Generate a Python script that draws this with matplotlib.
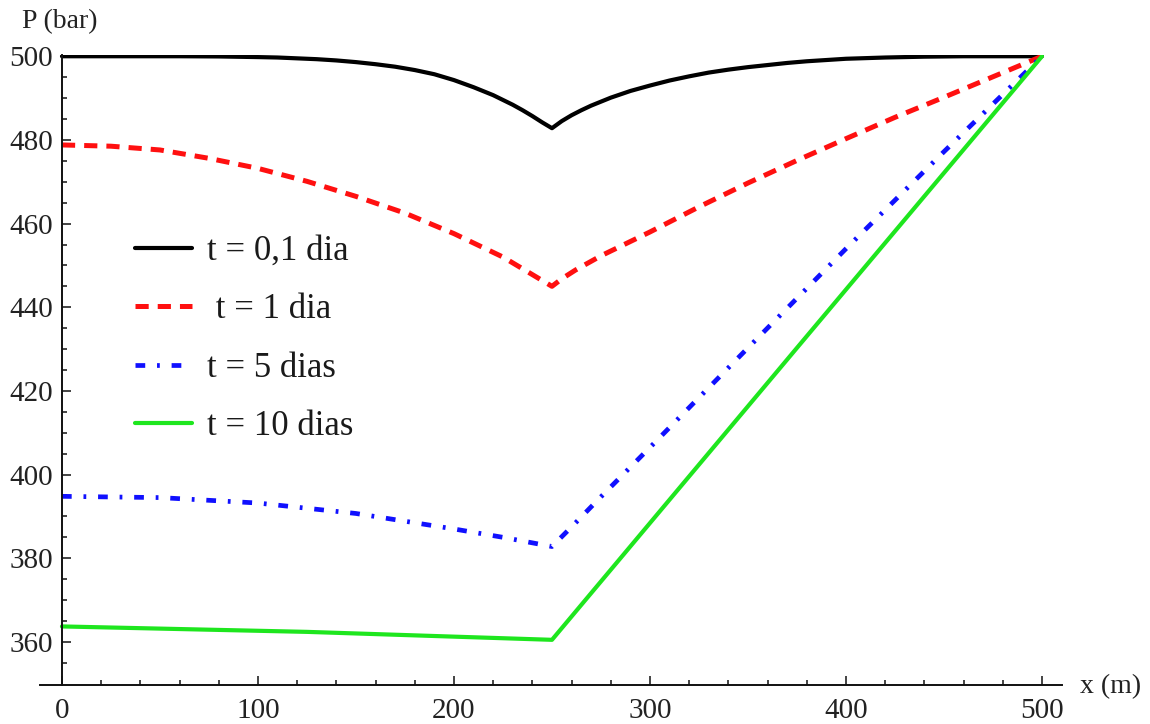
import matplotlib
matplotlib.use("Agg")
import matplotlib.pyplot as plt
from matplotlib.ticker import FixedLocator

plt.rcParams['font.family'] = ['Liberation Serif', 'DejaVu Serif']
plt.rcParams['lines.scale_dashes'] = False

# ---- data ----
x_01 = [0, 60, 80, 100, 110, 120, 130, 140, 150, 160, 170, 180, 190, 200, 210, 220, 230, 235, 240, 245, 250,
        255, 260, 265, 270, 280, 290, 300, 310, 320, 330, 340, 350, 360, 370, 380, 390, 400, 420, 440, 460, 500]
p_01 = [500.0, 500.0, 499.95, 499.8, 499.7, 499.5, 499.3, 499.0, 498.6, 498.1, 497.5, 496.7, 495.7, 494.3,
        492.6, 490.7, 488.4, 487.1, 485.7, 484.2, 482.8,
        484.5, 485.9, 487.1, 488.2, 490.1, 491.7, 493.0, 494.2, 495.2, 496.1, 496.8, 497.4, 497.9, 498.4,
        498.8, 499.1, 499.4, 499.7, 499.9, 500.0, 500.0]

x_1 = [0, 25, 50, 75, 100, 125, 150, 175, 200, 225, 250,
       255, 262, 275, 300, 325, 350, 375, 400, 425, 450, 475, 500]
p_1 = [478.8, 478.5, 477.6, 475.6, 473.2, 470.1, 466.5, 462.5, 457.6, 452.0, 445.0,
       446.8, 448.9, 452.3, 458.0, 464.0, 469.7, 475.1, 480.3, 485.4, 490.2, 495.1, 500.0]

x_5 = [0, 50, 100, 150, 200, 225, 250, 260, 275, 300, 350, 400, 450, 500]
p_5 = [394.8, 394.5, 393.2, 390.7, 387.0, 385.0, 382.8, 387.5, 394.7, 406.5, 430.3, 454.0, 477.2, 500.0]

x_10 = [0, 125, 250, 375, 500]
p_10 = [363.7, 362.4, 360.5, 430.3, 500.0]

labels = ["t = 0,1 dia", " t = 1 dia", "t = 5 dias", "t = 10 dias"]
x_ticks = [0, 100, 200, 300, 400, 500]
y_ticks = [360, 380, 400, 420, 440, 460, 480, 500]

# ---- figure ----
W, H = 1150, 724
fig = plt.figure(figsize=(W / 100, H / 100), dpi=100)
ax = fig.add_axes([40 / W, (H - 685) / H, 1022 / W, 630 / H])

lw = 3.0
ax.plot(x_01, p_01, color='black', lw=lw, solid_joinstyle='round', solid_capstyle='round', label=labels[0])
ax.plot(x_1, p_1, color='#ff1010', lw=lw + 0.6, dashes=(9.5, 6.5), dash_capstyle='butt',
        dash_joinstyle='round', label=labels[1])
ax.plot(x_5, p_5, color='#1010ff', lw=lw + 0.4, dashes=(7.0, 8.5, 2.0, 8.5), dash_capstyle='butt',
        dash_joinstyle='round', label=labels[2])
ax.plot(x_10, p_10, color='#1ee61e', lw=lw, solid_joinstyle='round', solid_capstyle='round', label=labels[3])

ax.set_xlim(-11.2, 510.2)
ax.set_ylim(349.7, 500.3)

for s in ('top', 'right'):
    ax.spines[s].set_visible(False)
ax.spines['left'].set_position(('data', 0))
for s in ('left', 'bottom'):
    ax.spines[s].set_linewidth(1.4)
    ax.spines[s].set_color('#111111')

ax.xaxis.set_major_locator(FixedLocator(x_ticks))
ax.xaxis.set_minor_locator(FixedLocator([v for v in range(20, 500, 20) if v % 100]))
ax.yaxis.set_major_locator(FixedLocator(y_ticks))
ax.yaxis.set_minor_locator(FixedLocator([v for v in range(355, 500, 5) if v % 20]))

ax.tick_params(which='both', direction='in', colors='#111111', width=1.1)
ax.tick_params(which='major', length=6.5, labelsize=21, labelcolor='#222222')
ax.tick_params(which='minor', length=3.8)
ax.tick_params(axis='x', which='major', pad=9)
ax.tick_params(axis='y', which='major', pad=6.5)

fig.text(22 / W, 1 - 22 / H, "P (bar)", fontsize=20, ha='left', va='center', color='#222222')
fig.text(1080 / W, 1 - 687 / H, "x (m)", fontsize=20, ha='left', va='center', color='#222222')

leg = ax.legend(loc='upper left', bbox_to_anchor=(135 / W, 1 - 235 / H), bbox_transform=fig.transFigure,
                frameon=False, fontsize=25, handlelength=1.64, handletextpad=0.42,
                labelspacing=0.73, borderpad=0, borderaxespad=0)
for t in leg.get_texts():
    t.set_color('#1a1a1a')

fig.savefig("out.png", dpi=100, facecolor='white')
